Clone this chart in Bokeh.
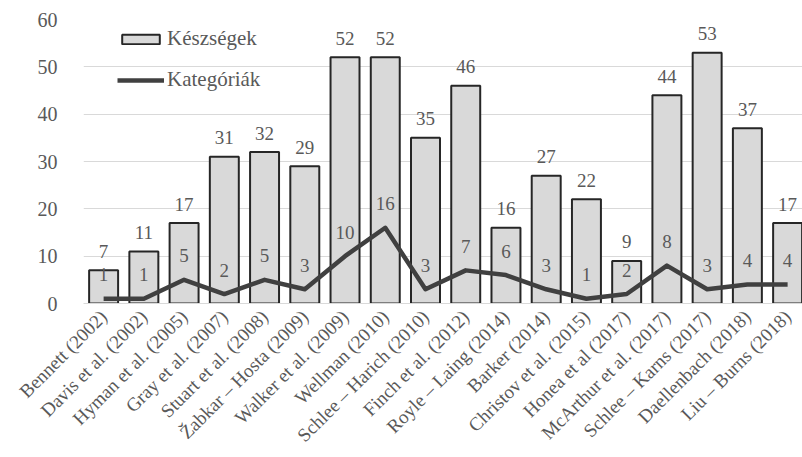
from bokeh.plotting import figure
from bokeh.models import Range1d, FixedTicker, ColumnDataSource, Legend, LegendItem
from bokeh.core.properties import value
from bokeh.embed import file_html
from bokeh.resources import INLINE
import math

categories = ["Bennett (2002)", "Davis et al. (2002)", "Hyman et al. (2005)", "Gray et al. (2007)",
              "Stuart et al. (2008)", "Žabkar – Hosta (2009)", "Walker et al. (2009)", "Wellman (2010)",
              "Schlee – Harich (2010)", "Finch et al. (2012)", "Royle – Laing (2014)", "Barker (2014)",
              "Christov et al. (2015)", "Honea et al (2017)", "McArthur et al. (2017)", "Schlee – Karns (2017)",
              "Daellenbach (2018)", "Liu – Burns (2018)"]
keszsegek = [7, 11, 17, 31, 32, 29, 52, 52, 35, 46, 16, 27, 22, 9, 44, 53, 37, 17]
kategoriak = [1, 1, 5, 2, 5, 3, 10, 16, 3, 7, 6, 3, 1, 2, 8, 3, 4, 4]
y_ticks = [0, 10, 20, 30, 40, 50, 60]

FONT = "'Liberation Serif', 'Times New Roman', serif"
TXT = "#595959"

idx = list(range(len(categories)))
src = ColumnDataSource(dict(x=idx, k=keszsegek, c=kategoriak,
                            kt=[str(v) for v in keszsegek], ct=[str(v) for v in kategoriak]))

p = figure(width=802, height=457, output_backend="svg", toolbar_location=None,
           x_range=Range1d(-0.5, 17.37), y_range=Range1d(0, 60),
           min_border_left=83, min_border_right=0, min_border_top=19, min_border_bottom=154)
p.outline_line_color = None
p.background_fill_color = "white"

bars = p.vbar(x="x", top="k", width=0.72, bottom=0, source=src,
              fill_color="#d9d9d9", line_color="#262626", line_width=2)
line = p.line(x="x", y="c", source=src, line_color="#404040", line_width=4.5, line_join="round")

p.text(x="x", y="k", text="kt", source=src, y_offset=-19, text_align="center", text_baseline="middle",
       text_font=value(FONT), text_font_size="19px", text_color=TXT)
p.text(x="x", y="c", text="ct", source=src, y_offset=-24, text_align="center", text_baseline="middle",
       text_font=value(FONT), text_font_size="19px", text_color=TXT)

p.xgrid.grid_line_color = None
p.ygrid.grid_line_color = "#d9d9d9"
p.ygrid.ticker = FixedTicker(ticks=y_ticks)

p.yaxis.ticker = FixedTicker(ticks=y_ticks)
p.yaxis.axis_line_color = None
p.yaxis.major_tick_line_color = None
p.yaxis.minor_tick_line_color = None
p.yaxis.major_label_standoff = 20
p.yaxis.major_label_text_font = FONT
p.yaxis.major_label_text_font_size = "20px"
p.yaxis.major_label_text_color = TXT

p.xaxis.ticker = FixedTicker(ticks=idx)
p.xaxis.major_label_overrides = {i: c for i, c in zip(idx, categories)}
p.xaxis.major_label_orientation = math.pi / 4
p.xaxis.axis_line_color = "#d9d9d9"
p.xaxis.axis_line_width = 1
p.xaxis.major_tick_line_color = None
p.xaxis.minor_tick_line_color = None
p.xaxis.major_label_standoff = 4
p.xaxis.major_label_text_font = FONT
p.xaxis.major_label_text_font_size = "19px"
p.xaxis.major_label_text_color = TXT

legend = Legend(items=[LegendItem(label="Készségek", renderers=[bars]),
                       LegendItem(label="Kategóriák", renderers=[line])],
                location=(34, 211), orientation="vertical")
legend.border_line_color = None
legend.background_fill_alpha = 0
legend.padding = 0
legend.margin = 0
legend.spacing = 16
legend.glyph_width = 47
legend.glyph_height = 12
legend.label_height = 20
legend.label_standoff = 3
legend.label_text_font = FONT
legend.label_text_font_size = "21px"
legend.label_text_color = TXT
p.add_layout(legend, "center")

open("out.html", "w").write(file_html(p, INLINE))
